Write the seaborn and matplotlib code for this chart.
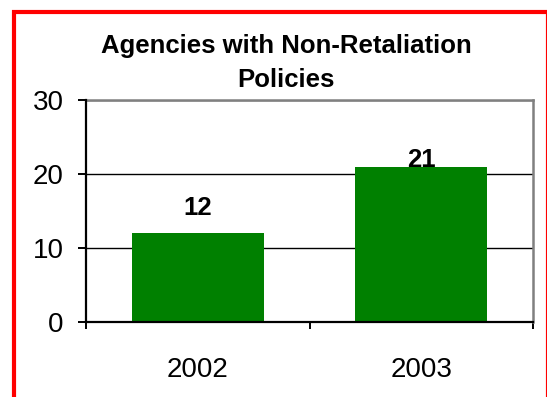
import matplotlib
matplotlib.use("Agg")
import matplotlib.pyplot as plt
from matplotlib.patches import Rectangle
import seaborn as sns
import pandas as pd

# Data
years = ["2002", "2003"]
agencies = [12, 21]
label_offsets_pt = [13, 0]  # vertical gap between bar top and its value label
title = "Agencies with Non-Retaliation\nPolicies"
y_ticks = [0, 10, 20, 30]

sns.set_theme(style="white")
plt.rcParams["font.family"] = ["Liberation Sans", "DejaVu Sans"]

W, H, DPI = 547, 397, 100
fig = plt.figure(figsize=(W / DPI, H / DPI), dpi=DPI)
fig.patch.set_facecolor("white")

ax = fig.add_axes([86 / W, 1 - 322 / H, (533 - 86) / W, (322 - 100) / H])

df = pd.DataFrame({"year": years, "count": agencies})
sns.barplot(data=df, x="year", y="count", color="#008000", saturation=1,
            width=0.59, linewidth=0, edgecolor="none", ax=ax, zorder=3)

ax.set_xlim(-0.5, len(years) - 0.5)
ax.set_ylim(0, 30)
ax.set_yticks(y_ticks)
ax.set_xlabel("")
ax.set_ylabel("")

# Horizontal gridlines
ax.yaxis.grid(True, color="black", linewidth=1.0, zorder=0)
ax.set_axisbelow(True)

# Spines: black axes, grey plot-area frame
for side in ["left", "bottom"]:
    ax.spines[side].set_color("black")
    ax.spines[side].set_linewidth(1.6)
    ax.spines[side].set_zorder(4)
for side in ["top", "right"]:
    ax.spines[side].set_color("#808080")
    ax.spines[side].set_linewidth(1.8)
    ax.spines[side].set_visible(True)

# Ticks
ax.tick_params(axis="y", direction="out", length=6, width=1.4, color="black",
               labelsize=20, pad=10, left=True)
ax.tick_params(axis="x", which="major", length=0, labelsize=20, pad=25)
ax.set_xticks([i - 0.5 for i in range(len(years) + 1)], minor=True)
ax.tick_params(axis="x", which="minor", direction="out", length=5, width=1.4,
               color="black", bottom=True)
for lab in ax.get_xticklabels() + ax.get_yticklabels():
    lab.set_color("black")

# Value labels
for i, (v, off) in enumerate(zip(agencies, label_offsets_pt)):
    ax.annotate(str(v), xy=(i, v), xytext=(0, off), textcoords="offset points",
                ha="center", va="baseline", fontsize=18.5, fontweight="bold",
                color="black", zorder=5)

# Title
fig.text(286 / W, 1 - 34 / H, title, ha="center", va="top", fontsize=18.5,
         fontweight="bold", color="black", linespacing=1.55)

# Red outer frame (right and bottom edges run off the canvas)
fig.patches.append(Rectangle((14 / W, -0.05), (548 - 14) / W, 1.05 - 12 / H,
                             transform=fig.transFigure, fill=False,
                             edgecolor="#ff0000", linewidth=3, zorder=10))

fig.savefig("out.png", dpi=DPI)
